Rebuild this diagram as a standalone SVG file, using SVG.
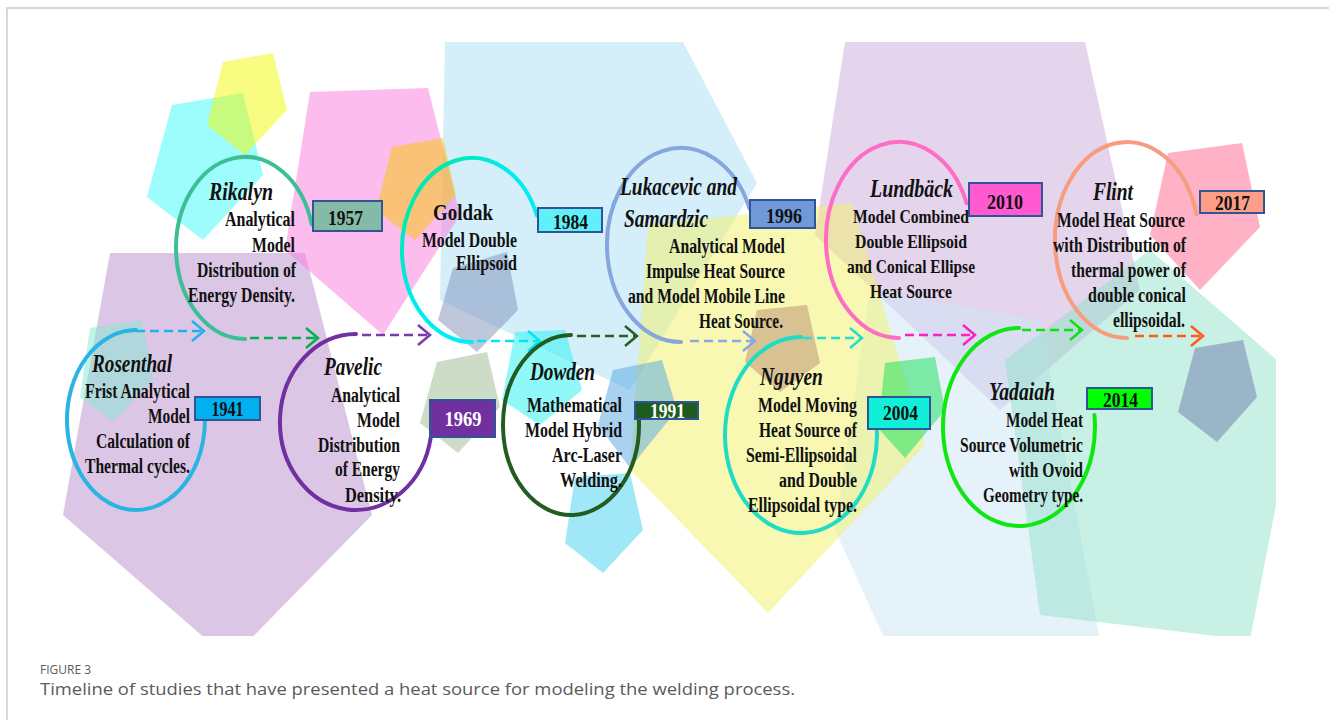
<svg xmlns="http://www.w3.org/2000/svg" width="1329" height="720" viewBox="0 0 1329 720">
<style>
.bg polygon{opacity:0.5}
.name{font-family:"Liberation Serif",serif;font-weight:bold;font-style:italic;font-size:25px;fill:#111}
.gname{font-family:"Liberation Serif",serif;font-weight:bold;font-size:24px;fill:#111}
.desc{font-family:"Liberation Serif",serif;font-weight:bold;font-size:20px;fill:#111}
.sm{font-size:19px}
.end{text-anchor:end}
.mid{text-anchor:middle}
.year{font-family:"Liberation Serif",serif;font-weight:bold;font-size:20px;text-anchor:middle;fill:#111}
.box{stroke:#2f5597;stroke-width:2}
.arc{fill:none;stroke-width:4;stroke-linecap:round}
.conn path{fill:none;stroke-width:2.5;stroke-dasharray:9 5}
.chev{fill:none;stroke-width:2.5}
.cap{font-family:"Open Sans","Noto Sans",sans-serif;fill:#5a5a5a}
</style>
<defs>
<clipPath id="pic"><rect x="60" y="40" width="1216" height="596"/></clipPath>
<linearGradient id="gg" x1="0" y1="0" x2="1" y2="1"><stop offset="0" stop-color="#00e890"/><stop offset="0.45" stop-color="#00ecf0"/><stop offset="1" stop-color="#00f0f8"/></linearGradient>
<marker id="m1" markerUnits="userSpaceOnUse" markerWidth="16" markerHeight="24" refX="13" refY="11" orient="auto"><path class="chev" stroke="#1fb2ea" d="M1,1 L13,11 L1,21"/></marker>
<marker id="m2" markerUnits="userSpaceOnUse" markerWidth="16" markerHeight="24" refX="13" refY="11" orient="auto"><path class="chev" stroke="#00b050" d="M1,1 L13,11 L1,21"/></marker>
<marker id="m3" markerUnits="userSpaceOnUse" markerWidth="16" markerHeight="24" refX="13" refY="11" orient="auto"><path class="chev" stroke="#7a3aaa" d="M1,1 L13,11 L1,21"/></marker>
<marker id="m4" markerUnits="userSpaceOnUse" markerWidth="16" markerHeight="24" refX="13" refY="11" orient="auto"><path class="chev" stroke="#00e6f2" d="M1,1 L13,11 L1,21"/></marker>
<marker id="m5" markerUnits="userSpaceOnUse" markerWidth="16" markerHeight="24" refX="13" refY="11" orient="auto"><path class="chev" stroke="#2a5e22" d="M1,1 L13,11 L1,21"/></marker>
<marker id="m6" markerUnits="userSpaceOnUse" markerWidth="16" markerHeight="24" refX="13" refY="11" orient="auto"><path class="chev" stroke="#8aa8e8" d="M1,1 L13,11 L1,21"/></marker>
<marker id="m7" markerUnits="userSpaceOnUse" markerWidth="16" markerHeight="24" refX="13" refY="11" orient="auto"><path class="chev" stroke="#20e0d0" d="M1,1 L13,11 L1,21"/></marker>
<marker id="m8" markerUnits="userSpaceOnUse" markerWidth="16" markerHeight="24" refX="13" refY="11" orient="auto"><path class="chev" stroke="#ff20c0" d="M1,1 L13,11 L1,21"/></marker>
<marker id="m9" markerUnits="userSpaceOnUse" markerWidth="16" markerHeight="24" refX="13" refY="11" orient="auto"><path class="chev" stroke="#10e010" d="M1,1 L13,11 L1,21"/></marker>
<marker id="m10" markerUnits="userSpaceOnUse" markerWidth="16" markerHeight="24" refX="13" refY="11" orient="auto"><path class="chev" stroke="#ff5a1a" d="M1,1 L13,11 L1,21"/></marker>
</defs>
<rect width="1329" height="720" fill="#fff"/>
<path d="M7,720 V8 H1329" fill="none" stroke="#cbcbcb" stroke-width="1.5"/>
<g class="bg" clip-path="url(#pic)">
<polygon fill="#a9ddf5" points="445,42 683,42 757,183 630,390 440,300"/>
<polygon fill="#b98dcd" points="110,253 305,253 372,515 230,660 63,515"/>
<polygon fill="#f979dd" points="310,92 428,88 460,215 383,335 285,250"/>
<polygon fill="#c9a9d9" points="845,42 1085,42 1140,290 1000,410 815,235"/>
<polygon fill="#cde5f5" points="870,290 1040,320 1100,640 885,640 835,530"/>
<polygon fill="#91e1c9" points="1150,250 1300,380 1250,640 1040,615 1005,360"/>
<polygon fill="#f1f165" points="648,225 852,203 925,445 768,613 630,470"/>
<polygon fill="#3bf9f9" points="172,105 243,93 263,175 203,240 147,197"/>
<polygon fill="#f1f901" points="223,62 273,53 287,110 245,155 207,125"/>
<polygon fill="#f7c800" points="392,147 443,138 456,195 415,240 376,210"/>
<polygon fill="#8090b8" points="453,268 507,252 518,310 477,352 438,320"/>
<polygon fill="#99b98d" points="437,362 487,352 500,407 458,453 420,423"/>
<polygon fill="#84ead2" points="90,328 142,320 153,380 113,422 80,397"/>
<polygon fill="#21f1f1" points="515,332 565,330 582,390 540,425 502,400"/>
<polygon fill="#41d1f1" points="575,477 630,473 643,530 603,573 565,543"/>
<polygon fill="#51a5e1" points="613,370 662,360 677,410 630,468 598,425"/>
<polygon fill="#b88c70" points="757,310 807,305 820,363 780,392 745,362"/>
<polygon fill="#11e151" points="885,363 935,357 945,410 905,458 878,428"/>
<polygon fill="#ff658d" points="1168,153 1242,143 1260,227 1200,290 1150,235"/>
<polygon fill="#6979a9" points="1195,348 1243,340 1257,397 1217,442 1178,412"/>
</g>
<g id="connectors" class="conn">
<path stroke="#1fb2ea" d="M136,331 H204" marker-end="url(#m1)"/>
<path stroke="#00b050" d="M250,338 H318" marker-end="url(#m2)"/>
<path stroke="#7a3aaa" d="M362,335 H430" marker-end="url(#m3)"/>
<path stroke="#00e6f2" d="M477,341 H540" marker-end="url(#m4)"/>
<path stroke="#2a5e22" d="M577,336 H637" marker-end="url(#m5)"/>
<path stroke="#8aa8e8" d="M690,341 H755" marker-end="url(#m6)"/>
<path stroke="#20e0d0" d="M803,338 H862" marker-end="url(#m7)"/>
<path stroke="#ff20c0" d="M905,335 H975" marker-end="url(#m8)"/>
<path stroke="#10e010" d="M1022,330 H1082" marker-end="url(#m9)"/>
<path stroke="#ff5a1a" d="M1135,336 H1203" marker-end="url(#m10)"/>
</g>
<g id="node-rosenthal">
<path class="arc" stroke="#2ab4e4" d="M136,330 A69,90 0 1 0 204.3,407.5"/>
<rect class="box" x="195" y="397" width="65" height="23" fill="#00b0f0"/>
<text class="year" x="227.5" y="416" textLength="32" lengthAdjust="spacingAndGlyphs">1941</text>
<text class="name" x="92" y="372" textLength="80" lengthAdjust="spacingAndGlyphs">Rosenthal</text>
<text class="desc end" x="190" y="398" textLength="105" lengthAdjust="spacingAndGlyphs">Frist Analytical</text>
<text class="desc end" x="190" y="423" textLength="42" lengthAdjust="spacingAndGlyphs">Model</text>
<text class="desc end" x="190" y="448" textLength="94" lengthAdjust="spacingAndGlyphs">Calculation of</text>
<text class="desc end" x="190" y="473" textLength="105" lengthAdjust="spacingAndGlyphs">Thermal cycles.</text>
</g>
<g id="node-rikalyn">
<path class="arc" stroke="#3cbf96" d="M245,339 A69,91 0 1 1 311.7,224.4"/>
<rect class="box" x="313" y="201" width="69" height="30" fill="#84bba6"/>
<text class="year" x="345.5" y="225" textLength="35" lengthAdjust="spacingAndGlyphs">1957</text>
<text class="name" x="209" y="200" textLength="64" lengthAdjust="spacingAndGlyphs">Rikalyn</text>
<text class="desc end" x="295" y="226" textLength="70" lengthAdjust="spacingAndGlyphs">Analytical</text>
<text class="desc end" x="295" y="252" textLength="43" lengthAdjust="spacingAndGlyphs">Model</text>
<text class="desc end" x="296" y="277" textLength="99" lengthAdjust="spacingAndGlyphs">Distribution of</text>
<text class="desc end" x="295" y="302" textLength="107" lengthAdjust="spacingAndGlyphs">Energy Density.</text>
</g>
<g id="node-pavelic">
<path class="arc" stroke="#7030a0" d="M356,334 A76,88 0 1 0 430.8,437.3"/>
<rect class="box" x="430" y="400" width="65" height="37" fill="#7030a0"/>
<text class="year" x="463" y="426" textLength="37" lengthAdjust="spacingAndGlyphs" style="fill:#fff">1969</text>
<text class="name" x="324" y="375" textLength="58" lengthAdjust="spacingAndGlyphs">Pavelic</text>
<text class="desc end" x="400" y="402" textLength="69" lengthAdjust="spacingAndGlyphs">Analytical</text>
<text class="desc end" x="400" y="427" textLength="43" lengthAdjust="spacingAndGlyphs">Model</text>
<text class="desc end" x="400" y="452" textLength="82" lengthAdjust="spacingAndGlyphs">Distribution</text>
<text class="desc end" x="400" y="476" textLength="65" lengthAdjust="spacingAndGlyphs">of Energy</text>
<text class="desc end" x="401" y="502" textLength="56" lengthAdjust="spacingAndGlyphs">Density.</text>
</g>
<g id="node-goldak">
<path class="arc" stroke="url(#gg)" d="M472,342 A70,92 0 1 1 536.9,215.5"/>
<rect class="box" x="538" y="208" width="64" height="24" fill="#5ff0fa"/>
<text class="year" x="570.5" y="229" textLength="35" lengthAdjust="spacingAndGlyphs">1984</text>
<text class="gname" x="433" y="220" textLength="60" lengthAdjust="spacingAndGlyphs">Goldak</text>
<text class="desc end" x="517" y="247" textLength="95" lengthAdjust="spacingAndGlyphs">Model Double</text>
<text class="desc end" x="517" y="270" textLength="61" lengthAdjust="spacingAndGlyphs">Ellipsoid</text>
</g>
<g id="node-dowden">
<path class="arc" stroke="#225c20" d="M571,335 A68,90 0 1 0 638.9,420.3"/>
<rect class="box" x="635" y="402" width="63" height="17" fill="#1e5b1e"/>
<text class="year" x="667.5" y="418" textLength="35" lengthAdjust="spacingAndGlyphs" style="fill:#fff">1991</text>
<text class="name" x="530" y="380" textLength="65" lengthAdjust="spacingAndGlyphs">Dowden</text>
<text class="desc end" x="622" y="412" textLength="95" lengthAdjust="spacingAndGlyphs">Mathematical</text>
<text class="desc end" x="622" y="437" textLength="97" lengthAdjust="spacingAndGlyphs">Model Hybrid</text>
<text class="desc end" x="622" y="462" textLength="70" lengthAdjust="spacingAndGlyphs">Arc-Laser</text>
<text class="desc end" x="622" y="487" textLength="62" lengthAdjust="spacingAndGlyphs">Welding.</text>
</g>
<g id="node-lukacevic">
<path class="arc" stroke="#86a6de" d="M681,342 A74,97 0 1 1 749.6,208.7"/>
<rect class="box" x="750" y="200" width="65" height="28" fill="#7099d9"/>
<text class="year" x="784" y="223" textLength="36" lengthAdjust="spacingAndGlyphs">1996</text>
<text class="name" x="620" y="195" textLength="117" lengthAdjust="spacingAndGlyphs">Lukacevic and</text>
<text class="name" x="624" y="227" textLength="84" lengthAdjust="spacingAndGlyphs">Samardzic</text>
<text class="desc end" x="785" y="253" textLength="116" lengthAdjust="spacingAndGlyphs">Analytical Model</text>
<text class="desc end" x="785" y="278" textLength="139" lengthAdjust="spacingAndGlyphs">Impulse Heat Source</text>
<text class="desc end" x="785" y="303" textLength="157" lengthAdjust="spacingAndGlyphs">and  Model Mobile Line</text>
<text class="desc end" x="783" y="328" textLength="84" lengthAdjust="spacingAndGlyphs">Heat Source.</text>
</g>
<g id="node-nguyen">
<path class="arc" stroke="#20dcc4" d="M801,337 A76,98 0 1 0 876.7,426.5"/>
<rect class="box" x="868" y="397" width="62" height="32" fill="#10f0d8"/>
<text class="year" x="900.5" y="420" textLength="35" lengthAdjust="spacingAndGlyphs">2004</text>
<text class="name" x="760" y="385" textLength="63" lengthAdjust="spacingAndGlyphs">Nguyen</text>
<text class="desc end" x="857" y="412" textLength="99" lengthAdjust="spacingAndGlyphs">Model Moving</text>
<text class="desc end" x="857" y="437" textLength="98" lengthAdjust="spacingAndGlyphs">Heat Source of</text>
<text class="desc end" x="857" y="462" textLength="111" lengthAdjust="spacingAndGlyphs">Semi-Ellipsoidal</text>
<text class="desc end" x="857" y="487" textLength="78" lengthAdjust="spacingAndGlyphs">and Double</text>
<text class="desc end" x="857" y="512" textLength="109" lengthAdjust="spacingAndGlyphs">Ellipsoidal type.</text>
</g>
<g id="node-lundback">
<path class="arc" stroke="#ff6cc4" d="M899,338 A73,98 0 1 1 966.7,203.3"/>
<rect class="box" x="969" y="183" width="73" height="33" fill="#ff5ad0"/>
<text class="year" x="1005" y="209" textLength="36" lengthAdjust="spacingAndGlyphs">2010</text>
<text class="name" x="870" y="197" textLength="83" lengthAdjust="spacingAndGlyphs">Lundbäck</text>
<text class="desc sm" x="853" y="223" textLength="116" lengthAdjust="spacingAndGlyphs">Model Combined</text>
<text class="desc sm" x="855" y="248" textLength="112" lengthAdjust="spacingAndGlyphs">Double Ellipsoid</text>
<text class="desc sm" x="847" y="273" textLength="128" lengthAdjust="spacingAndGlyphs">and  Conical Ellipse</text>
<text class="desc sm" x="870" y="298" textLength="82" lengthAdjust="spacingAndGlyphs">Heat Source</text>
</g>
<g id="node-yadaiah">
<path class="arc" stroke="#10e610" d="M1019,328 A76,99 0 1 0 1094.4,414.9"/>
<rect class="box" x="1087" y="388" width="65" height="21" fill="#00ff00"/>
<text class="year" x="1120.5" y="407" textLength="35" lengthAdjust="spacingAndGlyphs">2014</text>
<text class="name" x="989" y="400" textLength="66" lengthAdjust="spacingAndGlyphs">Yadaiah</text>
<text class="desc end" x="1083" y="427" textLength="77" lengthAdjust="spacingAndGlyphs">Model Heat</text>
<text class="desc end" x="1083" y="452" textLength="123" lengthAdjust="spacingAndGlyphs">Source Volumetric</text>
<text class="desc end" x="1083" y="477" textLength="74" lengthAdjust="spacingAndGlyphs">with Ovoid</text>
<text class="desc end" x="1083" y="502" textLength="100" lengthAdjust="spacingAndGlyphs">Geometry type.</text>
</g>
<g id="node-flint">
<path class="arc" stroke="#f89c80" d="M1127,338 A72,98 0 1 1 1196.5,214.6"/>
<rect class="box" x="1200" y="191" width="64" height="22" fill="#ff9e88"/>
<text class="year" x="1232.5" y="210" textLength="35" lengthAdjust="spacingAndGlyphs">2017</text>
<text class="name" x="1093" y="200" textLength="40" lengthAdjust="spacingAndGlyphs">Flint</text>
<text class="desc end" x="1185" y="227" textLength="128" lengthAdjust="spacingAndGlyphs">Model Heat Source</text>
<text class="desc end" x="1186" y="252" textLength="133" lengthAdjust="spacingAndGlyphs">with Distribution of</text>
<text class="desc end" x="1186" y="277" textLength="115" lengthAdjust="spacingAndGlyphs">thermal power of</text>
<text class="desc end" x="1186" y="302" textLength="98" lengthAdjust="spacingAndGlyphs">double conical</text>
<text class="desc end" x="1185" y="327" textLength="72" lengthAdjust="spacingAndGlyphs">ellipsoidal.</text>
</g>
<g id="caption">
<text class="cap" x="40" y="674" font-size="13" textLength="51" lengthAdjust="spacingAndGlyphs">FIGURE 3</text>
<text class="cap" x="40" y="695" font-size="16" textLength="755" lengthAdjust="spacingAndGlyphs">Timeline of studies that have presented a heat source for modeling the welding process.</text>
</g>
</svg>
